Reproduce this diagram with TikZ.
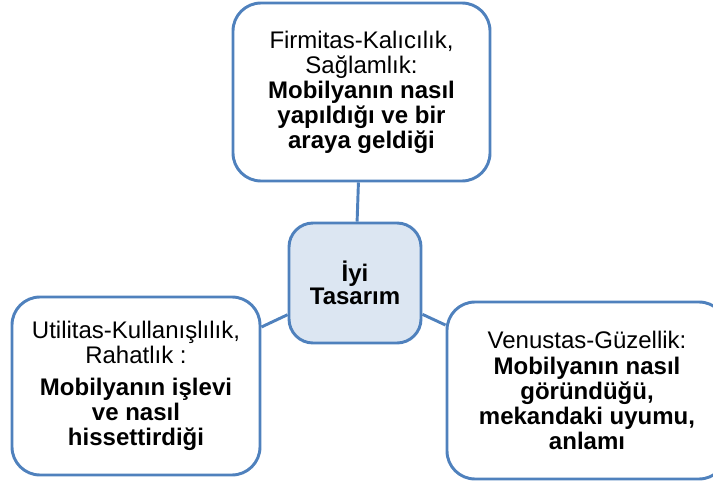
\documentclass[tikz,border=0pt]{standalone}
\usepackage{fontspec}
\setmainfont{Liberation Sans}
\usepackage{tikz}
\usetikzlibrary{arrows,positioning}
\definecolor{boxblue}{RGB}{79,129,189}
\definecolor{corefill}{RGB}{220,230,242}

\begin{document}
\begin{tikzpicture}
	[x=0.75pt,y=-0.75pt,line width=2.2pt,
		idea node/.style={rectangle,rounded corners=21pt,draw=boxblue,fill=white,align=center,inner sep=0pt,font=\fontsize{18}{18.8}\selectfont},
		core node/.style={idea node,fill=corefill,rounded corners=18pt,font=\fontsize{18}{17.5}\selectfont\bfseries}]

	\useasboundingbox (0,0) rectangle (713,481);

	\node[core node, minimum width=99pt, minimum height=90pt]    (C) at (355,283)   {İyi\\Tasarım};
	\node[idea node, minimum width=192.75pt, minimum height=133.5pt] (T) at (361.5,92) {Firmitas-Kalıcılık,\\Sağlamlık:\\\textbf{Mobilyanın nasıl}\\\textbf{yapıldığı ve bir}\\\textbf{araya geldiği}};
	\node[idea node, minimum width=186pt, minimum height=133.5pt]   (L) at (136,386)   {Utilitas-Kullanışlılık,\\Rahatlık :\\[5pt]\textbf{Mobilyanın işlevi}\\\textbf{ve nasıl}\\\textbf{hissettirdiği}};
	\node[idea node, minimum width=210pt, minimum height=132.75pt]  (R) at (587,390.5) {Venustas-Güzellik:\\\textbf{Mobilyanın nasıl}\\\textbf{göründüğü,}\\\textbf{mekandaki uyumu,}\\\textbf{anlamı}};

	\path[boxblue]
	(C) edge (T)
	(C) edge (L)
	(C) edge (R)
	;

\end{tikzpicture}
\end{document}
